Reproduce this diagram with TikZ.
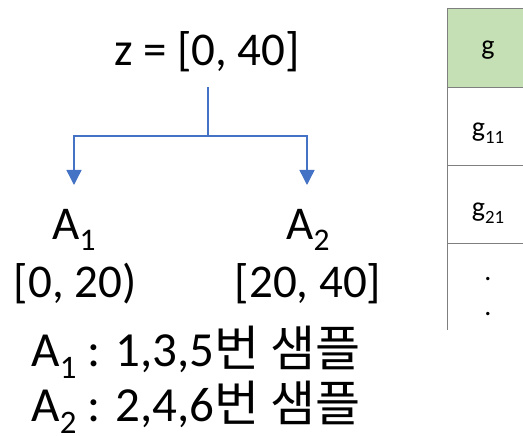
\documentclass[tikz,border=0pt]{standalone}
\usepackage{fontspec}
\setmainfont{Carlito}
\newfontfamily\kr{Noto Sans CJK KR}
\usetikzlibrary{arrows.meta}
\definecolor{arrblue}{HTML}{4472C4}
\definecolor{hdrgreen}{HTML}{C5E0B4}
\definecolor{gridgray}{HTML}{7F7F7F}
\newcommand{\lsub}[1]{\raisebox{-0.25em}{\scalebox{0.67}{#1}}}
\tikzset{
  big/.style={inner sep=0pt, font=\fontsize{47}{56}\selectfont},
  bigger/.style={inner sep=0pt, font=\fontsize{49}{56}\selectfont},
  cell/.style={inner sep=0pt, font=\fontsize{28}{34}\selectfont},
  conn/.style={draw=arrblue, line width=1.4pt, -{Triangle[width=15pt,length=15pt]}},
  gridline/.style={draw=gridgray, line width=0.9pt}
}
\begin{document}
\begin{tikzpicture}[x=1pt,y=-1pt]
\useasboundingbox (0,0) rectangle (523,436);
% tree
\node[big, anchor=base] (z) at (207,66) {z = [0, 40]};
\node[big, anchor=base] (a1) at (74,239) {A\lsub{1}};
\node[big, anchor=base] (r1) at (75,297) {[0, 20)};
\node[big, anchor=base] (a2) at (308,239) {A\lsub{2}};
\node[big, anchor=base] (r2) at (308,297) {[20, 40]};
\coordinate (zb) at (208,87);
\coordinate (jn) at (208,136);
\coordinate (t1) at (74,185);
\coordinate (t2) at (307,185);
\draw[conn] (zb) -- (jn) -| (t1);
\draw[conn] (jn) -| (t2);
\node[bigger, anchor=base] (l1) at (196,366) {A\lsub{1} : 1,3,5{\kr 번 샘플}};
\node[bigger, anchor=base] (l2) at (196,421) {A\lsub{2} : 2,4,6{\kr 번 샘플}};
% table
\fill[hdrgreen] (447,8) rectangle (523,87);
\draw[gridline] (447,8) -- (523,8);
\draw[gridline] (447,87) -- (523,87);
\draw[gridline] (447,165) -- (523,165);
\draw[gridline] (447,243) -- (523,243);
\draw[gridline] (447,8) -- (447,330);
\node[cell, anchor=base] (g) at (488,55) {g};
\node[cell, anchor=base] (g11) at (488,137) {g\lsub{11}};
\node[cell, anchor=base] (g21) at (488,216) {g\lsub{21}};
\node[cell, anchor=base] (d1) at (488,280) {.};
\node[cell, anchor=base] (d2) at (488,315) {.};
\end{tikzpicture}
\end{document}
